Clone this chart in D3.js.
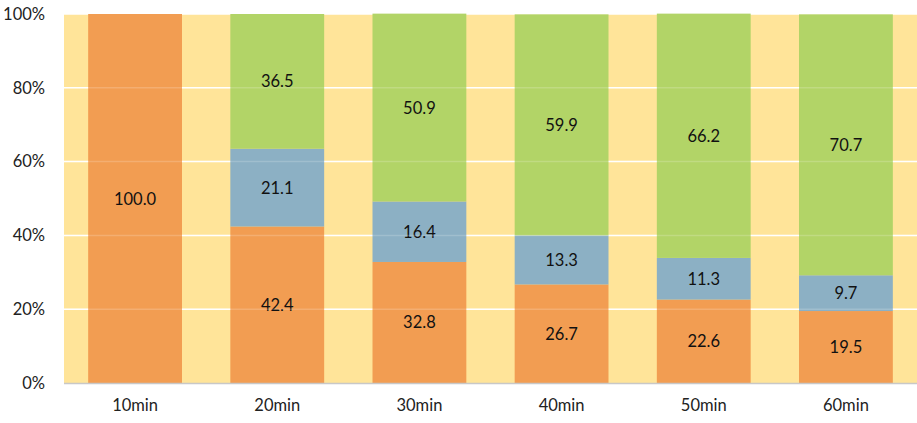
<!DOCTYPE html>
<html><head><meta charset="utf-8">
<script src="https://cdn.jsdelivr.net/npm/d3@7"></script>
<style>body{margin:0;background:#fff}svg{display:block}</style>
</head><body><svg id="c" width="917" height="423"></svg>
<script>
const categories = ["10min","20min","30min","40min","50min","60min"];
const seriesOrange = [100.0, 42.4, 32.8, 26.7, 22.6, 19.5];
const seriesBlue = [0, 21.1, 16.4, 13.3, 11.3, 9.7];
const seriesGreen = [0, 36.5, 50.9, 59.9, 66.2, 70.7];
const yTicks = [0, 20, 40, 60, 80, 100];

const svg = d3.select("#c");
const m = {l:64, r:0, t:14, b:40};
const W = 917, H = 423;
const x = d3.scaleBand().domain(categories).range([m.l, W - m.r]).paddingInner(0.34).paddingOuter(0.17);
const y = d3.scaleLinear().domain([0,100]).range([H - m.b, m.t]);
const font = "Lato, 'Open Sans', sans-serif";
const fs = 16.5;

svg.append("rect").attr("x", m.l).attr("y", m.t).attr("width", W - m.r - m.l).attr("height", y(0) - m.t).attr("fill", "#FFE499");

svg.append("g").selectAll("line").data(yTicks.filter(d=>d>0)).join("line")
  .attr("x1", m.l).attr("x2", W - m.r).attr("y1", d=>y(d)).attr("y2", d=>y(d))
  .attr("stroke", "#fff").attr("stroke-width", 1.5);

const series = [
  {vals: seriesOrange, color: "#F29D52"},
  {vals: seriesBlue, color: "#8CB0C4"},
  {vals: seriesGreen, color: "#B2D467"}
];
const stacks = categories.map(()=>0);
series.forEach(s => {
  categories.forEach((c,i) => {
    const v = s.vals[i];
    if (!v) return;
    const y0 = stacks[i], y1 = stacks[i] + v;
    stacks[i] = y1;
    svg.append("rect").attr("x", x(c)).attr("width", x.bandwidth())
      .attr("y", y(y1)).attr("height", y(y0) - y(y1)).attr("fill", s.color);
    svg.append("text").attr("x", x(c) + x.bandwidth()/2).attr("y", (y(y0)+y(y1))/2)
      .attr("text-anchor","middle").attr("dominant-baseline","central")
      .attr("font-family", font).attr("font-size", fs).attr("fill", "#111")
      .text(v.toFixed(1));
  });
});

// faint gridlines showing through bars
svg.append("g").selectAll("line").data(yTicks.filter(d=>d>0 && d<100)).join("line")
  .attr("x1", m.l).attr("x2", W - m.r).attr("y1", d=>y(d)).attr("y2", d=>y(d))
  .attr("stroke", "#fff").attr("stroke-opacity", 0.18).attr("stroke-width", 1.5);

svg.append("line").attr("x1", m.l).attr("x2", W - m.r).attr("y1", y(0)+0.5).attr("y2", y(0)+0.5)
  .attr("stroke", "#C8C8C8").attr("stroke-width", 1.5);

const yAxis = d3.axisLeft(y).tickValues(yTicks).tickFormat(d=>d+"%").tickSize(0).tickPadding(19);
const ga = svg.append("g").attr("transform", `translate(${m.l},0)`).call(yAxis);
ga.select(".domain").remove();
ga.selectAll("text").attr("font-family", font).attr("font-size", fs).attr("fill", "#222");

const xAxis = d3.axisBottom(x).tickSize(0).tickPadding(16);
const gx = svg.append("g").attr("transform", `translate(0,${y(0)})`).call(xAxis);
gx.select(".domain").remove();
gx.selectAll("text").attr("font-family", font).attr("font-size", fs).attr("fill", "#222");
</script></body></html>
